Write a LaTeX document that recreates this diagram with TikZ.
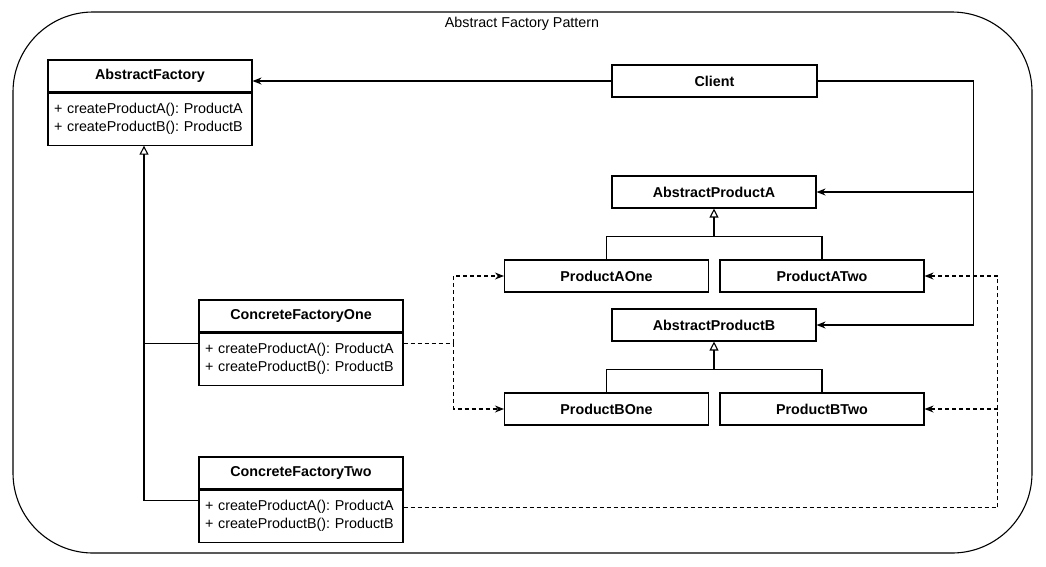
\documentclass[tikz,border=0pt]{standalone}
\usepackage{fontspec}
\setmainfont{Liberation Sans}
\usetikzlibrary{arrows.meta,positioning}

\begin{document}
\begin{tikzpicture}[x=1pt,y=-1pt,line width=1.1pt,
	every node/.style={font=\fontsize{14.3}{18}\selectfont\frenchspacing},
	head/.style={draw, minimum width=204pt, minimum height=32pt, inner sep=0pt, font=\fontsize{14.3}{18}\selectfont\bfseries},
	body/.style={draw, minimum height=52pt, inner xsep=6pt, inner ysep=0pt, text width=192pt, align=left},
	inherit/.style={-{Triangle[open,length=9pt,width=9pt]}},
	assoc/.style={-{Stealth[length=9pt,width=7pt]}},
	dep/.style={dash pattern=on 4pt off 3pt, -{Stealth[length=9pt,width=7pt]}}]
	\useasboundingbox (0,0) rectangle (1046,566);
	%%%frame
	\draw[rounded corners=80pt] (13,12) rectangle (1032,553);
	\node at (522,24) (title){Abstract Factory Pattern};
	%%%nodes
	%factories
	\node[head] at (150,76) (AF){AbstractFactory};
	\node[body, below=0pt of AF] (AFm){+ createProductA(): ProductA\\+ createProductB(): ProductB};
	\node[head] at (301,316) (CF1){ConcreteFactoryOne};
	\node[body, below=0pt of CF1] (CF1m){+ createProductA(): ProductA\\+ createProductB(): ProductB};
	\node[head] at (301,473) (CF2){ConcreteFactoryTwo};
	\node[body, below=0pt of CF2] (CF2m){+ createProductA(): ProductA\\+ createProductB(): ProductB};
	%client
	\node[head, minimum width=205pt] at (714.5,81) (Client){Client};
	%products A
	\node[head] at (714,192) (APA){AbstractProductA};
	\node[head] at (606.5,276) (PA1){ProductAOne};
	\node[head] at (822,276) (PA2){ProductATwo};
	%products B
	\node[head] at (714,325) (APB){AbstractProductB};
	\node[head] at (606.5,409) (PB1){ProductBOne};
	\node[head] at (822,409) (PB2){ProductBTwo};
	%helpers
	\coordinate (trunk) at ([xshift=-6pt]AFm.south);
	\coordinate (bus) at ([xshift=156pt]Client.east);
	\coordinate (dv1) at ([xshift=50pt,yshift=16pt]CF1m.east);
	\coordinate (dv2) at ([xshift=594pt,yshift=9pt]CF2m.east);
	%%%links
	%client
	\draw[assoc] (Client.west) -- (Client.west -| AF.east);
	\draw[-] (Client.east) -- (bus);
	\draw[assoc] (bus) |- (APB.east);
	\draw[assoc] (bus |- APA.east) -- (APA.east);
	%factory tree
	\draw[inherit] ([yshift=16pt]CF2m.west) -| (trunk);
	\draw[-] ([yshift=16pt]CF1m.west) -- ([yshift=16pt]CF1m.west -| trunk);
	%product trees
	\draw[inherit] (PA1.north) |- ([yshift=-28pt]APA.south) -- (APA.south);
	\draw[-] (PA2.north) |- ([yshift=-28pt]APA.south);
	\draw[inherit] (PB1.north) |- ([yshift=-28pt]APB.south) -- (APB.south);
	\draw[-] (PB2.north) |- ([yshift=-28pt]APB.south);
	%creates, factory one
	\draw[dash pattern=on 4pt off 3pt] ([yshift=16pt]CF1m.east) -- (dv1);
	\draw[dep] (dv1) |- (PA1.west);
	\draw[dep] (dv1) |- (PB1.west);
	%creates, factory two
	\draw[dash pattern=on 4pt off 3pt] ([yshift=9pt]CF2m.east) -- (dv2);
	\draw[dep] (dv2) |- (PA2.east);
	\draw[dep] (dv2) |- (PB2.east);
\end{tikzpicture}
\end{document}
